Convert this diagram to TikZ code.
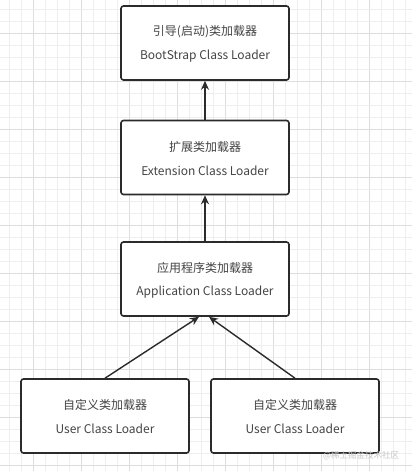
\documentclass[tikz,border=0pt]{standalone}
\usepackage{fontspec}
\setmainfont{Noto Sans CJK SC}
\usetikzlibrary{arrows.meta,calc}
\definecolor{gridminor}{HTML}{EEEEEE}
\definecolor{gridmajor}{HTML}{DDDDDD}
\definecolor{boxline}{HTML}{2B2B2B}
\definecolor{txt}{HTML}{444444}
\tikzset{
  loader/.style={draw=boxline, line width=1.6pt, rounded corners=2.5pt, fill=white,
    minimum width=168pt, minimum height=74pt, inner sep=0pt},
  ltext/.style={text=txt, font=\fontsize{12}{14}\selectfont, inner sep=0pt},
  conn/.style={draw=boxline, line width=1.4pt, -{Stealth[length=9pt,width=8pt]}},
}
\begin{document}
\begin{tikzpicture}[x=1pt,y=-1pt]
\useasboundingbox (0,0) rectangle (412,471);
\fill[white] (0,0) rectangle (412,471);
% grid
\foreach \k in {0,...,33} {
  \pgfmathtruncatemacro{\m}{mod(\k+2,4)}
  \ifnum\m=0
    \draw[gridmajor, line width=0.8pt] ({9+12*\k},0) -- ({9+12*\k},471);
  \else
    \draw[gridminor, line width=0.8pt] ({9+12*\k},0) -- ({9+12*\k},471);
  \fi
}
\foreach \k in {0,...,38} {
  \pgfmathtruncatemacro{\m}{mod(\k+2,4)}
  \ifnum\m=0
    \draw[gridmajor, line width=0.8pt] (0,{9+12*\k}) -- (412,{9+12*\k});
  \else
    \draw[gridminor, line width=0.8pt] (0,{9+12*\k}) -- (412,{9+12*\k});
  \fi
}
% boxes
\node[loader] (boot) at (205,43) {};
\node[loader] (ext)  at (205,157.5) {};
\node[loader] (app)  at (205,279) {};
\node[loader] (u1)   at (105,416) {};
\node[loader] (u2)   at (295,416) {};
% texts
\node[ltext] (bootcn) at ($(boot.center)+(0,-11)$) {引导(启动)类加载器};
\node[ltext] (booten) at ($(boot.center)+(0,13)$) {BootStrap Class Loader};
\node[ltext] (extcn) at ($(ext.center)+(0,-11)$) {扩展类加载器};
\node[ltext] (exten) at ($(ext.center)+(0,13)$) {Extension Class Loader};
\node[ltext] (appcn) at ($(app.center)+(0,-11)$) {应用程序类加载器};
\node[ltext] (appen) at ($(app.center)+(0,13)$) {Application Class Loader};
\node[ltext] (u1cn) at ($(u1.center)+(0,-11)$) {自定义类加载器};
\node[ltext] (u1en) at ($(u1.center)+(0,13)$) {User Class Loader};
\node[ltext] (u2cn) at ($(u2.center)+(0,-11)$) {自定义类加载器};
\node[ltext] (u2en) at ($(u2.center)+(0,13)$) {User Class Loader};
% connectors
\coordinate (appL) at ($(app.south)+(-6,0)$);
\coordinate (appR) at ($(app.south)+(4,0)$);
\draw[conn] (ext.north) -- (boot.south);
\draw[conn] (app.north) -- (ext.south);
\draw[conn] (u1.north) -- (appL);
\draw[conn] (u2.north) -- (appR);
% watermark
\node[text=black!22, font=\fontsize{8.5}{10}\selectfont, inner sep=0pt, anchor=west] (wm) at (323,455.5) {@稀土掘金技术社区};
\end{tikzpicture}
\end{document}
